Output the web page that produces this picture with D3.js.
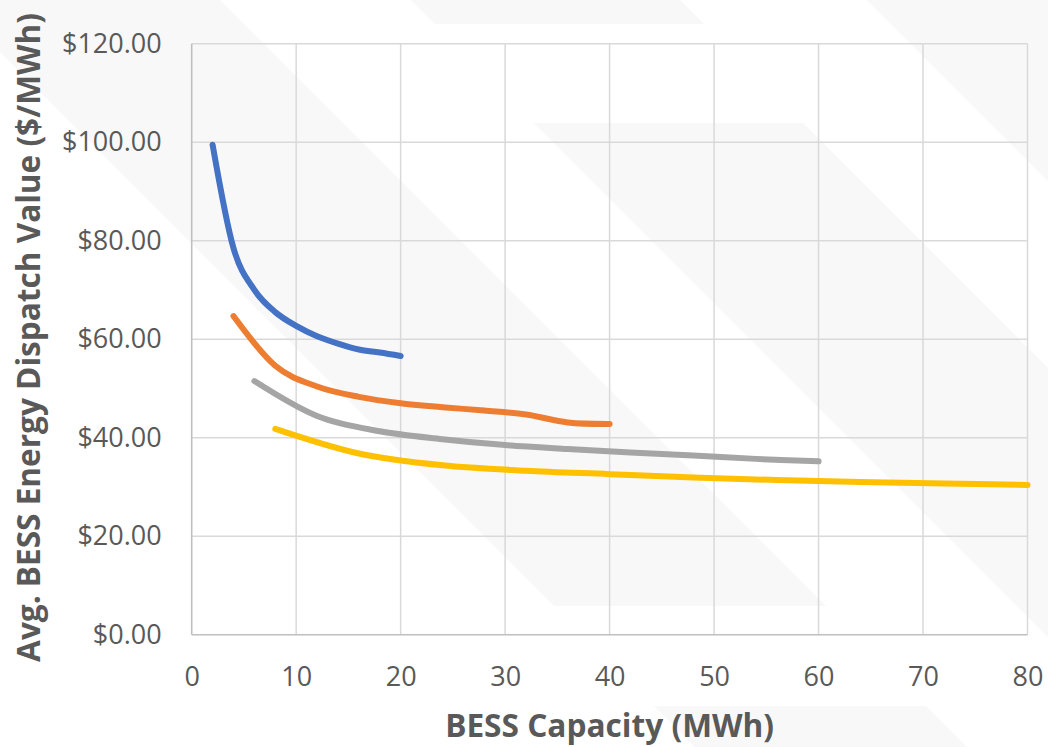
<!DOCTYPE html>
<html>
<head>
<meta charset="utf-8">
<script src="https://cdn.jsdelivr.net/npm/d3@7"></script>
<style>
  html, body { margin: 0; padding: 0; background: #ffffff; }
  svg { display: block; }
  text { font-family: "Open Sans", "DejaVu Sans", sans-serif; fill: #595959; }
</style>
</head>
<body>
<svg id="chart" width="1048" height="747"></svg>
<script>
// Average BESS energy dispatch value by installed capacity, four sizing cases
const capacityBlue   = [2, 4, 6, 8, 10, 12, 14, 16, 18, 20];
const valueBlue      = [99.5, 78.5, 70.0, 65.5, 62.7, 60.6, 59.1, 57.9, 57.3, 56.6];

const capacityOrange = [4, 8, 12, 16, 20, 24, 28, 32, 36, 40];
const valueOrange    = [64.7, 54.6, 50.4, 48.3, 47.0, 46.2, 45.5, 44.7, 43.1, 42.8];

const capacityGray   = [6, 12, 18, 24, 30, 36, 42, 48, 54, 60];
const valueGray      = [51.5, 44.4, 41.3, 39.7, 38.5, 37.7, 37.0, 36.4, 35.7, 35.2];

const capacityYellow = [8, 16, 24, 32, 40, 48, 56, 64, 72, 80];
const valueYellow    = [41.8, 36.8, 34.4, 33.3, 32.6, 31.9, 31.4, 31.0, 30.7, 30.4];

const xTicks = [0, 10, 20, 30, 40, 50, 60, 70, 80];
const yTicks = [0, 20, 40, 60, 80, 100, 120];

const xTitle = "BESS Capacity (MWh)";
const yTitle = "Avg.  BESS Energy Dispatch Value ($/MWh)";

const seriesList = [
  { xs: capacityBlue,   ys: valueBlue,   color: "#4472C4" },
  { xs: capacityOrange, ys: valueOrange, color: "#ED7D31" },
  { xs: capacityGray,   ys: valueGray,   color: "#A5A5A5" },
  { xs: capacityYellow, ys: valueYellow, color: "#FFC000" }
];

const svg = d3.select("#chart");
const plot = { left: 191.7, right: 1027.5, top: 43.7, bottom: 634.7 };

// faint diagonal background stripes (edges follow lines y = x + c)
const stripeBands = [
  { lo: 52,   hi: -220,  y0: -300, y1: 606 },
  { lo: 52,   hi: -220,  y0: 706,  y1: 1100 },
  { lo: -411, hi: -680,  y0: -300, y1: 24 },
  { lo: -411, hi: -680,  y0: 123,  y1: 1100 },
  { lo: -867, hi: -1140, y0: -300, y1: 1100 }
];
svg.append("g").selectAll("polygon")
  .data(stripeBands)
  .join("polygon")
  .attr("points", b => [
      [b.y0 - b.lo, b.y0], [b.y0 - b.hi, b.y0],
      [b.y1 - b.hi, b.y1], [b.y1 - b.lo, b.y1]
    ].map(p => p.join(",")).join(" "))
  .attr("fill", "#f8f8f8");

const x = d3.scaleLinear().domain([0, 80]).range([plot.left, plot.right]);
const y = d3.scaleLinear().domain([0, 120]).range([plot.bottom, plot.top]);

// gridlines
const grid = svg.append("g").attr("stroke", "#d9d9d9").attr("stroke-width", 1.5);
grid.selectAll("line.h").data(yTicks.filter(v => v > 0)).join("line")
  .attr("class", "h")
  .attr("x1", plot.left).attr("x2", plot.right)
  .attr("y1", d => y(d)).attr("y2", d => y(d));
grid.selectAll("line.v").data(xTicks.filter(v => v > 0)).join("line")
  .attr("class", "v")
  .attr("x1", d => x(d)).attr("x2", d => x(d))
  .attr("y1", plot.top).attr("y2", plot.bottom);

// axis lines
const axisLines = svg.append("g").attr("stroke", "#bfbfbf").attr("stroke-width", 1.6);
axisLines.append("line")
  .attr("x1", x(0)).attr("x2", x(0)).attr("y1", y(120)).attr("y2", y(0));
axisLines.append("line")
  .attr("x1", x(0)).attr("x2", x(80)).attr("y1", y(0)).attr("y2", y(0));

// tick labels
const yAxis = svg.append("g")
  .attr("transform", `translate(${plot.left},0)`)
  .call(d3.axisLeft(y).tickValues(yTicks).tickSize(0).tickPadding(30)
    .tickFormat(d => "$" + d.toFixed(2)));
yAxis.select(".domain").remove();
yAxis.selectAll("text").attr("font-size", 27).attr("font-family", null).style("fill", "#595959");

const xAxis = svg.append("g")
  .attr("transform", `translate(0,${plot.bottom})`)
  .call(d3.axisBottom(x).tickValues(xTicks).tickSize(0).tickPadding(32)
    .tickFormat(d3.format("d")));
xAxis.select(".domain").remove();
xAxis.selectAll("text").attr("font-size", 27).attr("font-family", null).style("fill", "#595959");

// series lines
const line = d3.line()
  .x(d => x(d[0]))
  .y(d => y(d[1]))
  .curve(d3.curveCatmullRom.alpha(0));

svg.append("g").selectAll("path")
  .data(seriesList)
  .join("path")
  .attr("d", s => line(s.xs.map((v, i) => [v, s.ys[i]])))
  .attr("fill", "none")
  .attr("stroke", s => s.color)
  .attr("stroke-width", 6)
  .attr("stroke-linecap", "round")
  .attr("stroke-linejoin", "round");

// axis titles: bold, horizontally condensed to a target length
function condensedTitle(label, size, targetLength, placement) {
  const g = svg.append("g").attr("transform", placement);
  const t = g.append("text")
    .attr("text-anchor", "middle")
    .attr("font-size", size)
    .attr("font-weight", 700)
    .text(label);
  const natural = t.node().getComputedTextLength();
  t.attr("transform", `scale(${Math.min(1, targetLength / natural)},1)`);
  return g;
}

condensedTitle(xTitle, 32, 329, `translate(${(plot.left + plot.right) / 2},737)`);
condensedTitle(yTitle, 33, 649, "translate(40,337.5) rotate(-90)");
</script>
</body>
</html>
